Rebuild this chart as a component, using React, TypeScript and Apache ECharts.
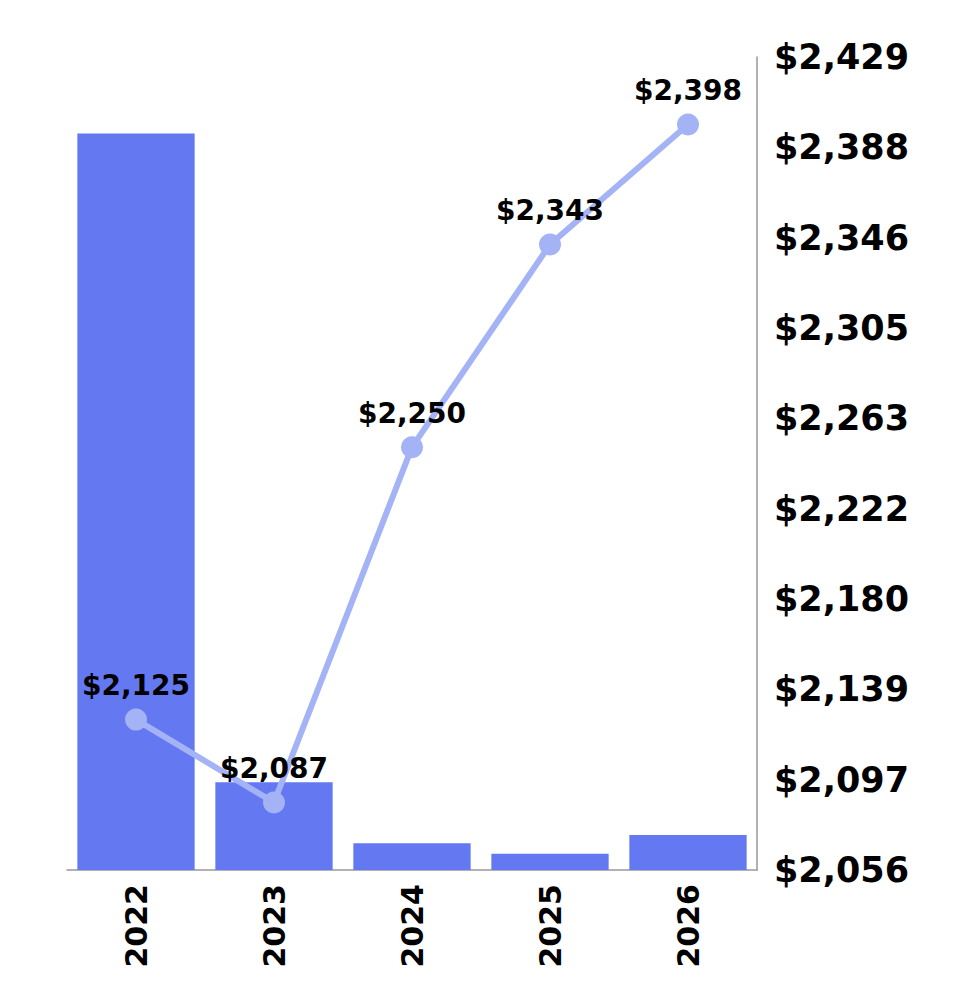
import React, { useEffect, useRef } from "react";
import * as echarts from "echarts";

const categories = ["2022", "2023", "2024", "2025", "2026"];
const barValues = [90.6, 10.8, 3.3, 2.0, 4.3];
const lineValues = [2125, 2087, 2250, 2343, 2398];
const axisMin = 2056;
const axisMax = 2429;

const fmt = (v: number) => "$" + Math.round(v).toLocaleString("en-US");

export default function App() {
  const ref = useRef<HTMLDivElement>(null);
  useEffect(() => {
    const chart = echarts.init(ref.current!, null, { renderer: "svg" });
    chart.setOption({
      animation: false,
      grid: { left: 59, right: 195, top: 49, bottom: 118 },
      xAxis: {
        type: "category",
        data: categories,
        axisLine: { show: true, lineStyle: { color: "#999", width: 1.5 } },
        axisTick: { show: false },
        axisLabel: {
          rotate: 90,
          margin: 14,
          color: "#000",
          fontSize: 30,
          fontWeight: "bold",
          fontFamily: "DejaVu Sans",
        },
      },
      yAxis: [
        {
          type: "value",
          position: "right",
          min: axisMin,
          max: axisMax,
          interval: (axisMax - axisMin) / 9,
          splitLine: { show: false },
          axisLine: { show: true, lineStyle: { color: "#999", width: 1.5 } },
          axisTick: { show: false },
          axisLabel: {
            margin: 17,
            color: "#000",
            fontSize: 35,
            fontWeight: "bold",
            fontFamily: "DejaVu Sans",
            formatter: (v: number) => fmt(v),
          },
        },
        { type: "value", min: 0, max: 100, show: false },
      ],
      series: [
        {
          type: "bar",
          yAxisIndex: 1,
          data: barValues,
          barCategoryGap: "15%",
          itemStyle: { color: "#6479f1" },
        },
        {
          type: "line",
          yAxisIndex: 0,
          data: lineValues,
          symbol: "circle",
          symbolSize: 22,
          lineStyle: { color: "#a3b3f6", width: 6 },
          itemStyle: { color: "#a3b3f6" },
          label: {
            show: true,
            position: "top",
            distance: 9,
            color: "#000",
            fontSize: 28,
            fontWeight: "bold",
            fontFamily: "DejaVu Sans",
            formatter: (p: any) => fmt(p.value),
          },
          z: 3,
        },
      ],
    });
    return () => chart.dispose();
  }, []);
  return <div ref={ref} style={{ width: 944, height: 980 }} />;
}
